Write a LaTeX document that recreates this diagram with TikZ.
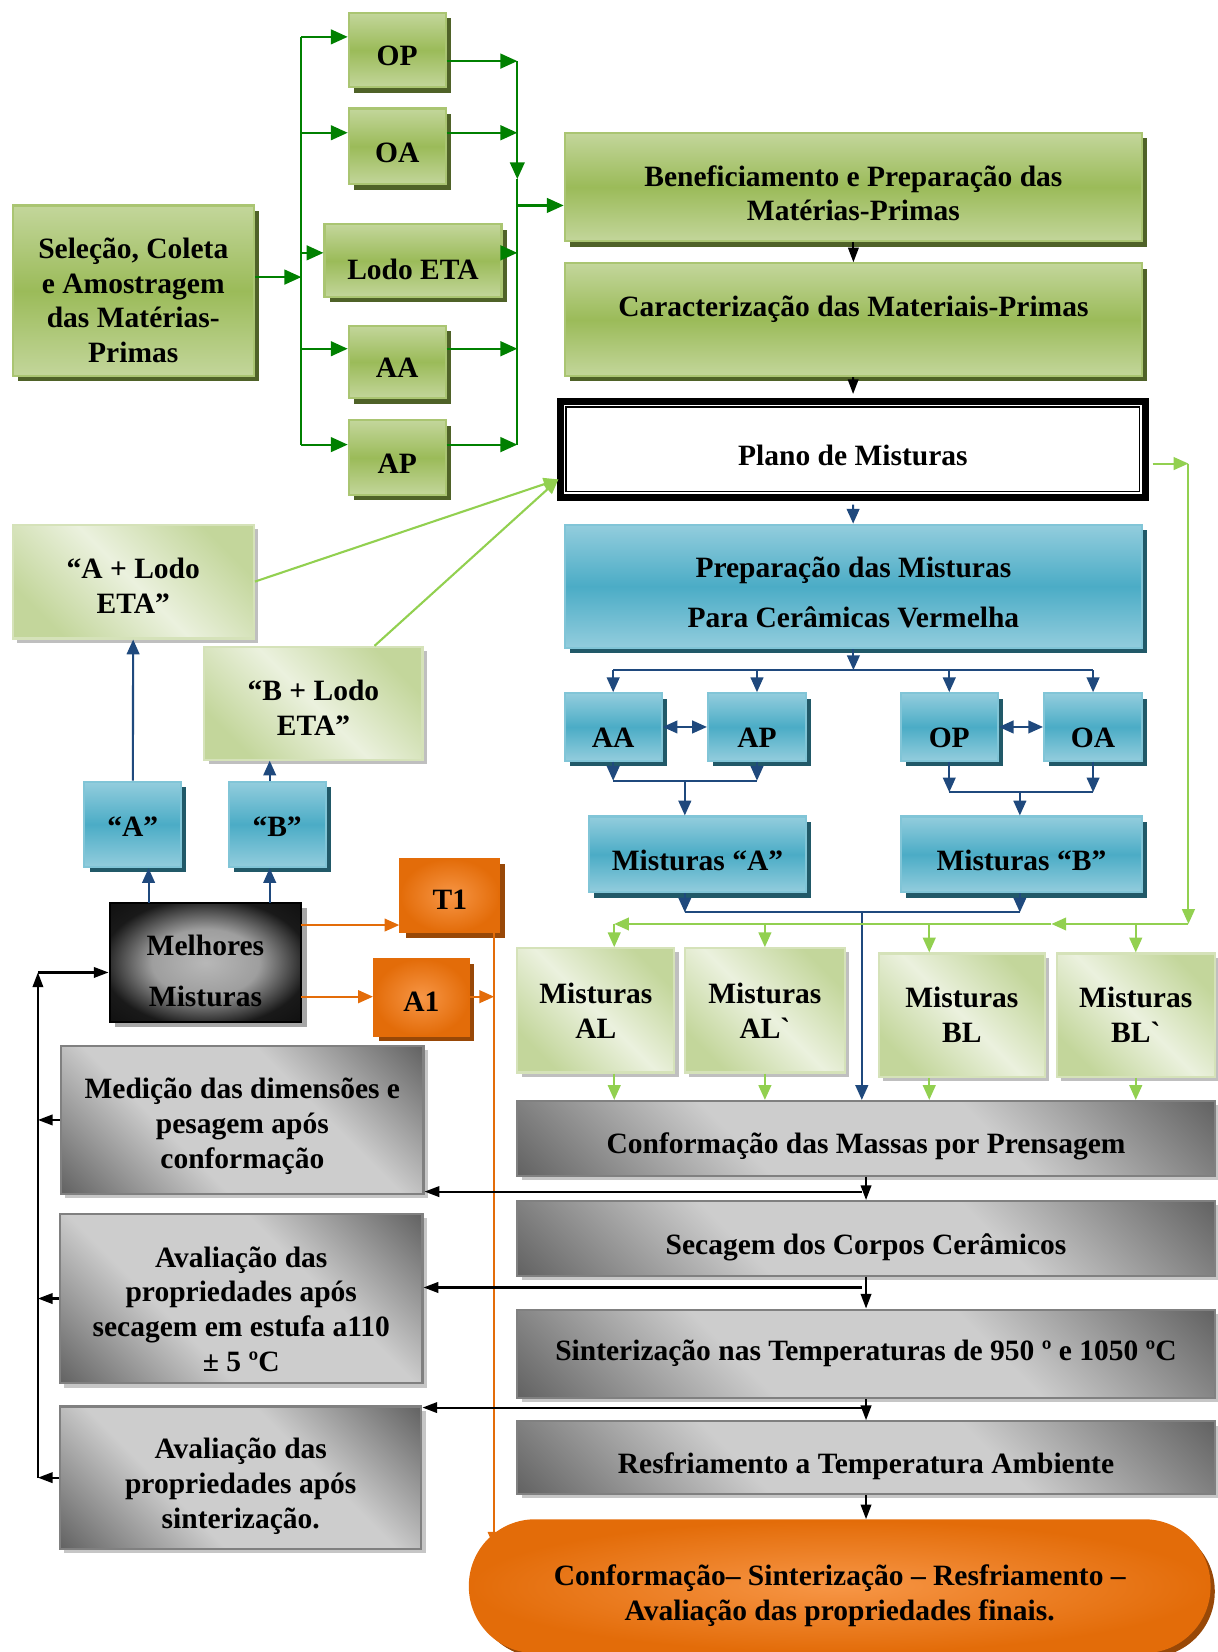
\documentclass[tikz,border=0pt]{standalone}
\usepackage{fontspec}
\setmainfont{Liberation Serif}
\usepackage{tikz}
\usetikzlibrary{arrows.meta,fit,shadows}
\definecolor{grnD}{HTML}{9BBB59}
\definecolor{grnL}{HTML}{C3D69B}
\definecolor{grnS}{HTML}{4F6228}
\definecolor{lgL}{HTML}{EBF1DE}
\definecolor{lgD}{HTML}{C3D69B}
\definecolor{bluD}{HTML}{4BACC6}
\definecolor{bluL}{HTML}{93CDDD}
\definecolor{bluS}{HTML}{215968}
\definecolor{grD}{HTML}{646464}
\definecolor{grL}{HTML}{CDCDCD}
\definecolor{arB}{HTML}{1F497D}
\definecolor{arG}{HTML}{008000}
\definecolor{arL}{HTML}{92D050}
\definecolor{orD}{HTML}{E36C09}
\definecolor{orL}{HTML}{F79646}
\definecolor{orS}{HTML}{984807}
\pgfdeclareverticalshading{grband}{100bp}{color(0bp)=(grD); color(15bp)=(grD); color(38bp)=(grL); color(62bp)=(grL); color(85bp)=(grD); color(100bp)=(grD)}
\pgfdeclareradialshading{melband}{\pgfpoint{0bp}{0bp}}{color(0bp)=(black!28); color(14bp)=(black!38); color(27bp)=(black!90); color(50bp)=(black)}
\tikzset{
  box/.style={draw, inner sep=0pt},
  lab/.style={align=center, inner sep=0pt, font=\bfseries\fontsize{14}{16.5}\selectfont, yshift=-3pt},
  gbox/.style={box, draw=grnD!85!white, line width=1pt, top color=grnL, bottom color=grnL, middle color=grnD, drop shadow={shadow xshift=2.5pt, shadow yshift=-2.5pt, fill=grnS, opacity=1}},
  lbox/.style={box, draw=lgD!70!white, line width=1pt, top color=lgD, bottom color=lgD, middle color=lgL, shading angle=-45, drop shadow={shadow xshift=2pt, shadow yshift=-2pt, fill=gray!50, opacity=1}},
  bbox/.style={box, draw=bluD!70!white, line width=1pt, top color=bluL, bottom color=bluL, middle color=bluD, drop shadow={shadow xshift=2.5pt, shadow yshift=-2.5pt, fill=bluS, opacity=1}},
  cbox/.style={box, draw=gray, line width=1pt, shade, shading=grband, shading angle=-45, drop shadow={shadow xshift=2pt, shadow yshift=-2pt, fill=gray!45, opacity=1}},
  obox/.style={box, draw=orD, line width=1pt, inner color=orL, outer color=orD, drop shadow={shadow xshift=2.5pt, shadow yshift=-2.5pt, fill=orS, opacity=1}},
  mbox/.style={box, draw=black, line width=1pt, shade, shading=melband, drop shadow={shadow xshift=2.5pt, shadow yshift=-2.5pt, fill=gray!70, opacity=1}},
  ga/.style={draw=arG, line width=1pt, -{Triangle[length=8pt,width=7pt]}},
  gline/.style={draw=arG, line width=1pt},
  ba/.style={draw=arB, line width=1pt, -{Triangle[length=7pt,width=6pt]}},
  bline/.style={draw=arB, line width=1pt},
  la/.style={draw=arL, line width=1pt, -{Triangle[length=7pt,width=6pt]}},
  ka/.style={draw=black, line width=1pt, -{Triangle[length=7pt,width=5pt]}},
  oa/.style={draw=orD, line width=1pt, -{Triangle[length=7pt,width=6pt]}}
}
\begin{document}
\begin{tikzpicture}[x=0.5pt,y=-0.5pt]
\useasboundingbox (0,0) rectangle (1156,1568);
\node[gbox, fit={(12,195) (241,357)}, label={[lab,yshift=-1.5pt]center:Seleção, Coleta\\e Amostragem\\das Matérias-\\Primas}] (sel) {};
\node[gbox, fit={(331,12) (423,83)}, label={[lab]center:OP}] (op) {}; \node[gbox, fit={(331,103) (423,175)}, label={[lab]center:OA}] (oa) {};
\node[gbox, fit={(308,213) (476,282)}, label={[lab,yshift=-1pt]center:Lodo ETA}] (lodo) {};
\node[gbox, fit={(331,309) (423,378)}, label={[lab]center:AA}] (aa) {}; \node[gbox, fit={(331,399) (423,470)}, label={[lab]center:AP}] (ap) {};
\node[gbox, fit={(536,126) (1084,229)}, label={[lab]center:Beneficiamento e Preparação das\\Matérias-Primas}] (ben) {};
\node[gbox, fit={(536,250) (1084,357)}, label={[lab,yshift=8pt]center:Caracterização das Materiais-Primas}] (car) {};
\node[box, line width=3.5pt, fit={(532,381) (1087,472)}, label={[lab]center:Plano de Misturas}] (plano) {};
\draw[line width=0.8pt] ([shift={(4.5pt,-4.5pt)}]plano.north west) rectangle ([shift={(-4.5pt,4.5pt)}]plano.south east);
\node[bbox, fit={(536,498) (1084,615)}, label={[lab]center:Preparação das Misturas\\[7.5pt]Para Cerâmicas Vermelha}] (prep) {};
\node[bbox, fit={(536,658) (628,722)}, label={[lab,yshift=-2pt]center:AA}] (aa2) {}; \node[bbox, fit={(672,658) (765,722)}, label={[lab,yshift=-2pt]center:AP}] (ap2) {};
\node[bbox, fit={(855,658) (947,722)}, label={[lab,yshift=-2pt]center:OP}] (op2) {}; \node[bbox, fit={(991,658) (1084,722)}, label={[lab,yshift=-2pt]center:OA}] (oa2) {};
\node[bbox, fit={(559,775) (765,847)}, label={[lab]center:Misturas “A”}] (ma) {}; \node[bbox, fit={(855,775) (1084,847)}, label={[lab]center:Misturas “B”}] (mb) {};
\node[lbox, fit={(491,900) (640,1018)}, label={[lab,yshift=3pt]center:Misturas\\AL}] (al) {}; \node[lbox, fit={(650,900) (802,1018)}, label={[lab,yshift=3pt]center:Misturas\\AL\textasciigrave}] (alp) {};
\node[lbox, fit={(834,905) (992,1022)}, label={[lab,yshift=3pt]center:Misturas\\BL}] (bl) {}; \node[lbox, fit={(1003,905) (1153,1022)}, label={[lab,yshift=3pt]center:Misturas\\BL\textasciigrave}] (blp) {};
\node[cbox, fit={(491,1045) (1153,1116)}, label={[lab,yshift=-1pt]center:Conformação das Massas por Prensagem}] (conf) {};
\node[cbox, fit={(491,1140) (1153,1211)}, label={[lab,yshift=-1pt]center:Secagem dos Corpos Cerâmicos}] (sec) {};
\node[cbox, fit={(491,1243) (1153,1327)}, label={[lab,yshift=3pt]center:Sinterização nas Temperaturas de 950 º e 1050 ºC}] (sin) {};
\node[cbox, fit={(491,1349) (1153,1418)}, label={[lab,yshift=-1pt]center:Resfriamento a Temperatura Ambiente}] (res) {};
\node[obox, rounded corners=31pt, fit={(446,1443) (1148,1568)}, label={[lab,yshift=-1.5pt]center:Conformação– Sinterização – Resfriamento –\\Avaliação das propriedades finais.}] (fim) {};
\node[lbox, fit={(12,498) (241,606)}, label={[lab,yshift=1pt]center:“A + Lodo\\ETA”}] (alb) {}; \node[lbox, fit={(194,614) (401,721)}, label={[lab,yshift=1pt]center:“B + Lodo\\ETA”}] (blb) {};
\node[bbox, fit={(80,742) (172,823)}, label={[lab,yshift=2pt]center:“A”}] (qa) {}; \node[bbox, fit={(217,742) (309,823)}, label={[lab,yshift=2pt]center:“B”}] (qb) {};
\node[mbox, fit={(104,857) (286,970)}, label={[lab,yshift=-1pt]center:Melhores\\[7.5pt]Misturas}] (mel) {};
\node[obox, fit={(380,815) (474,885)}, label={[lab,yshift=1pt]center:T1}] (t1) {}; \node[obox, fit={(355,910) (445,983)}, label={[lab,yshift=1pt]center:A1}] (a1) {};
\node[cbox, fit={(58,993) (402,1133)}, label={[lab]center:Medição das dimensões e\\pesagem após\\conformação}] (med) {};
\node[cbox, fit={(57,1152) (401,1313)}, label={[lab,yshift=-2pt]center:Avaliação das\\propriedades após\\secagem em estufa a110\\± 5 ºC}] (av1) {};
\node[cbox, fit={(57,1335) (400,1470)}, label={[lab,yshift=-1pt]center:Avaliação das\\propriedades após\\sinterização.}] (av2) {};
\coordinate (l0) at (286,263); \coordinate (l1) at (286,35); \coordinate (l2) at (286,126); \coordinate (l3) at (286,240); \coordinate (l4) at (286,331); \coordinate (l5) at (286,422);
\coordinate (r0) at (491,195); \coordinate (rv) at (491,170); \coordinate (r1) at (491,58); \coordinate (r2) at (491,126); \coordinate (r3) at (491,240); \coordinate (r4) at (491,331); \coordinate (r5) at (491,422);
\draw[ga] (l0 -| sel.east) -- (l0); \draw[gline] (l1) -- (l5);
\draw[ga] (l1) -- (l1 -| op.west); \draw[ga] (l2) -- (l2 -| oa.west); \draw[ga] (l3) -- (l3 -| lodo.west); \draw[ga] (l4) -- (l4 -| aa.west); \draw[ga] (l5) -- (l5 -| ap.west);
\draw[ga] (r1 -| op.east) -- (r1); \draw[ga] (r2 -| oa.east) -- (r2); \draw[ga] (r3 -| lodo.east) -- (r3); \draw[ga] (r4 -| aa.east) -- (r4); \draw[ga] (r5 -| ap.east) -- (r5);
\draw[ga] (r1) -- (rv); \draw[gline] (rv) -- (r5); \draw[ga] (r0) -- (r0 -| ben.west);
\draw[ka] (ben) -- (car); \draw[ka, shorten >=1.75pt] (car) -- (plano);
\coordinate (b0) at (810,636); \coordinate (b1) at (650,741); \coordinate (b2) at (968,752); \coordinate (b3) at (818,866);
\draw[ba, shorten <=1.75pt] (plano) -- (prep); \draw[ba] (prep) -- (b0); \draw[bline] (b0 -| aa2) -- (b0 -| oa2);
\draw[ba] (b0 -| aa2) -- (aa2); \draw[ba] (b0 -| ap2) -- (ap2); \draw[ba] (b0 -| op2) -- (op2); \draw[ba] (b0 -| oa2) -- (oa2);
\draw[ba] (aa2) -- (b1 -| aa2); \draw[ba] (ap2) -- (b1 -| ap2); \draw[bline] (b1 -| aa2) -- (b1 -| ap2); \draw[ba] (b1) -- (b1 |- ma.north);
\draw[ba] (op2) -- (b2 -| op2); \draw[ba] (oa2) -- (b2 -| oa2); \draw[bline] (b2 -| op2) -- (b2 -| oa2); \draw[ba] (b2) -- (b2 |- mb.north);
\draw[<->, arB, line width=1pt, >={Triangle[length=7pt,width=6pt]}] (aa2) -- (ap2); \draw[<->, arB, line width=1pt, >={Triangle[length=7pt,width=6pt]}] (op2) -- (oa2);
\draw[ba] (b1 |- ma.south) -- (b1 |- b3); \draw[ba] (b2 |- mb.south) -- (b2 |- b3); \draw[bline] (b1 |- b3) -- (b2 |- b3); \draw[ba] (b3) -- (b3 |- conf.north);
\coordinate (g1) at (1128,440); \coordinate (g2) at (1128,877); \coordinate (g3) at (998,877); \coordinate (g4) at (583,877); \coordinate (g5) at (882,877);
\draw[la, shorten <=1.75pt] (g1 -| plano.east) -- (g1); \draw[la] (g1) -- (g2); \draw[la] (g2) -- (g3); \draw[la] (g3) -- (g4);
\draw[la] (g4) -- (g4 |- al.north); \draw[la] (alp.north |- g4) -- (alp.north); \draw[la] (g5) -- (g5 |- bl.north); \draw[la] (blp.north |- g4) -- (blp.north);
\draw[la] (g4 |- al.south) -- (g4 |- conf.north); \draw[la] (alp.south) -- (alp.south |- conf.north); \draw[la] (g5 |- bl.south) -- (g5 |- conf.north); \draw[la] (blp.south) -- (blp.south |- conf.north);
\coordinate (pin) at (530,455);
\draw[la] (alb.east) -- (pin); \draw[la] ([xshift=29pt]blb.north) -- (pin);
\coordinate (m1) at (141,857); \coordinate (m2) at (256,857);
\draw[ba] (qa) -- (alb); \draw[ba] (m1) -- (m1 |- qa.south); \draw[ba] (m2) -- (m2 |- qb.south); \draw[ba] (m2 |- qb.north) -- (m2 |- blb.south);
\coordinate (o1) at (286,878); \coordinate (o2) at (286,946); \coordinate (o3) at (469,885); \coordinate (o4) at (469,1468);
\draw[oa] (o1) -- (o1 -| t1.west); \draw[oa] (o2) -- (o2 -| a1.west); \draw[oa] (o3) -- (o4); \draw[oa] (o2 -| a1.east) -- (o2 -| o3);
\draw[ka] (conf) -- (sec); \draw[ka] (sec) -- (sin); \draw[ka] (sin) -- (res); \draw[ka] (res.south) -- (res.south |- fim.north);
\coordinate (k0) at (36,923); \coordinate (k1) at (818,1131); \coordinate (k2) at (818,1222); \coordinate (k3) at (818,1336);
\draw[ka] (k1) -- (k1 -| med.east); \draw[ka] (k2) -- (k2 -| av1.east); \draw[ka] (k3) -- (k3 -| av2.east);
\draw[ka] (med.west) -- (med.west -| k0); \draw[ka] (av1.west) -- (av1.west -| k0); \draw[ka] (av2.west) -- (av2.west -| k0);
\draw[ka] (av2.west -| k0) -- (k0); \draw[ka] (k0) -- (k0 -| mel.west);
\end{tikzpicture}
\end{document}
